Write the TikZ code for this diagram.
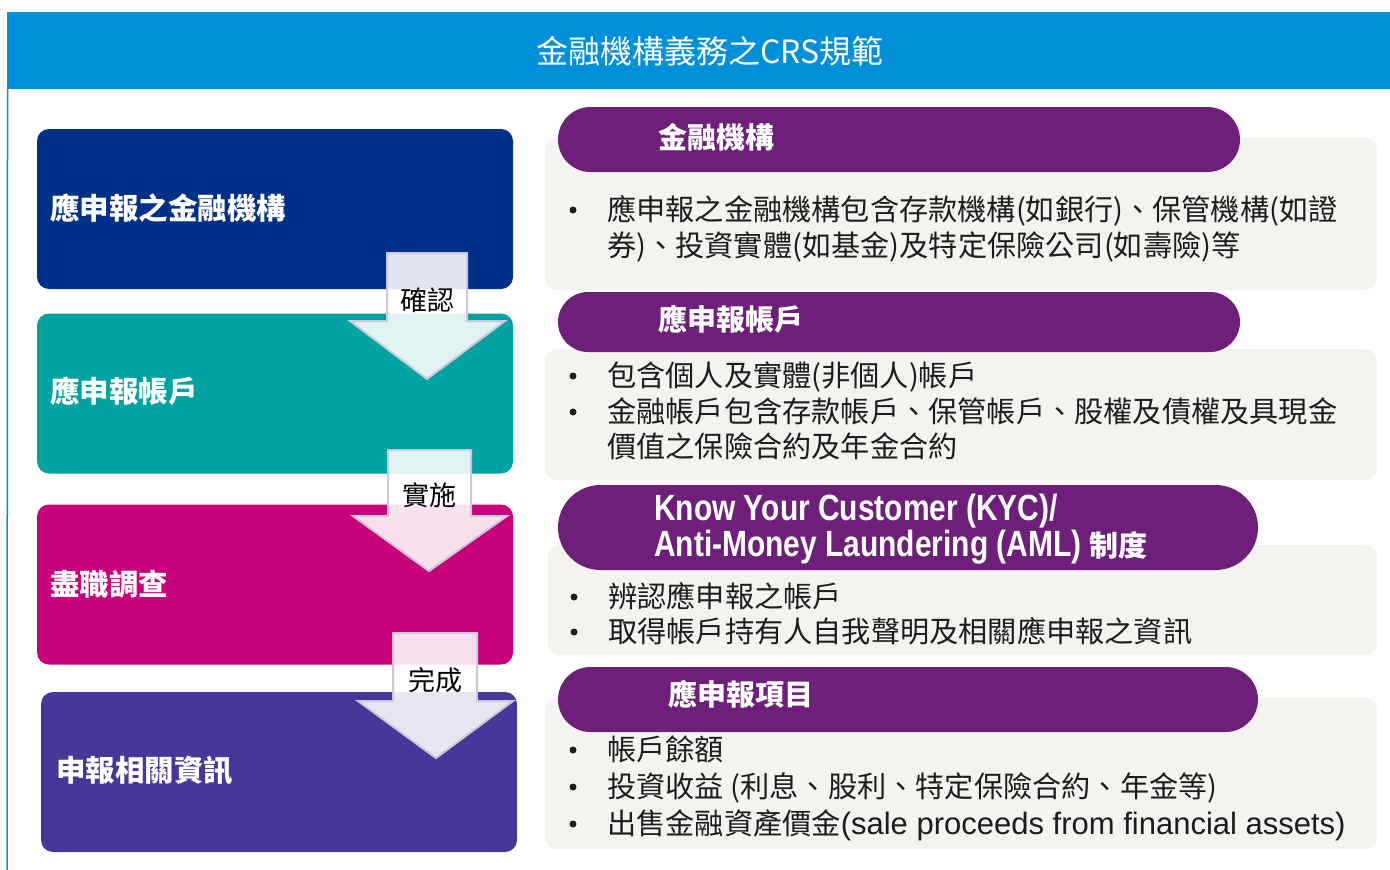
\documentclass[tikz,border=0pt]{standalone}
\usepackage{fontspec}
\setmainfont{Noto Sans CJK TC}
\newfontfamily\lat{Liberation Sans}
\newfontfamily\latcb[FakeStretch=0.82]{Liberation Sans Bold}
\definecolor{hdrblue}{RGB}{0,144,218}
\definecolor{boxA}{RGB}{0,48,135}
\definecolor{boxB}{RGB}{0,163,161}
\definecolor{boxC}{RGB}{200,0,123}
\definecolor{boxD}{RGB}{72,54,152}
\definecolor{pillc}{RGB}{109,31,122}
\definecolor{panelc}{RGB}{244,243,239}
\definecolor{arrowedge}{RGB}{205,200,215}
\definecolor{ink}{RGB}{30,28,30}
\tikzset{
  lbox/.style={draw=none, rounded corners=12pt, inner sep=0pt, minimum width=476pt, minimum height=160pt},
  panel/.style={fill=panelc, draw=none, rounded corners=12pt},
  pill/.style={fill=pillc, draw=none, inner sep=0pt},
  blockarrow/.style={fill=white, fill opacity=0.88, draw=arrowedge, line width=2pt, line join=miter},
  ltext/.style={inner sep=0pt, anchor=base west, text=white, font=\fontsize{29.5}{34}\selectfont\bfseries},
  atext/.style={inner sep=0pt, anchor=base, text=black, font=\fontsize{27}{32}\selectfont},
  ptext/.style={inner sep=0pt, anchor=base west, text=white, font=\fontsize{29}{34}\selectfont\bfseries},
  btext/.style={inner sep=0pt, anchor=base west, text=ink, font=\fontsize{29.2}{36}\selectfont},
  bul/.style={circle, fill=ink, inner sep=0pt, minimum size=7pt},
}
\begin{document}
\begin{tikzpicture}[x=1pt,y=-1pt]
\useasboundingbox (0,0) rectangle (1390,870);
\fill[white] (0,0) rectangle (1390,870);
% header
\node[fill=hdrblue, inner sep=0pt, minimum width=1383pt, minimum height=77pt] (hdr) at (698.5,50.5) {};
\node[inner sep=0pt, anchor=base, text=white, font=\fontsize{32}{36}\selectfont] (title) at (710,63.5) {金融機構義務之CRS規範};
\coordinate (lineend) at (7,870);
\draw[hdrblue, line width=1.5pt] (hdr.south west) ++(0.75,0) -- (lineend);
% left boxes
\node[lbox, fill=boxA] (b1) at (275,209) {};
\node[lbox, fill=boxB] (b2) at (275,393.5) {};
\node[lbox, fill=boxC] (b3) at (275,584.5) {};
\node[lbox, fill=boxD] (b4) at (279,772) {};
\node[ltext] (t1) at (50,219.5) {應申報之金融機構};
\node[ltext] (t2) at (50,402.5) {應申報帳戶};
\node[ltext] (t3) at (50,595.5) {盡職調查};
\node[ltext] (t4) at (56,781.5) {申報相關資訊};
% arrows
\draw[blockarrow] (387,253) -- (467,253) -- (467,321) -- (505,321) -- (427,379) -- (350,321) -- (387,321) -- cycle;
\draw[blockarrow] (388,450) -- (471,450) -- (471,516) -- (507,516) -- (429,571) -- (353,516) -- (388,516) -- cycle;
\draw[blockarrow] (393,633) -- (477,633) -- (477,701) -- (513,701) -- (436,758) -- (358,701) -- (393,701) -- cycle;
\node[atext] (a1) at (427,310) {確認};
\node[atext] (a2) at (429,505) {實施};
\node[atext] (a3) at (435,690) {完成};
% panels
\fill[panel] (545,138) rectangle (1377,290);
\fill[panel] (545,349) rectangle (1377,480);
\fill[panel] (548,545) rectangle (1377,655);
\fill[panel] (545,698) rectangle (1377,849);
% pills
\node[pill, rounded corners=32.5pt, minimum width=682pt, minimum height=65pt] (p1) at (899,139.5) {};
\node[pill, rounded corners=30pt, minimum width=682pt, minimum height=60pt] (p2) at (899,322) {};
\node[pill, rounded corners=42.5pt, minimum width=700pt, minimum height=85pt] (p3) at (908,527.5) {};
\node[pill, rounded corners=32.5pt, minimum width=700pt, minimum height=65pt] (p4) at (908,699.5) {};
\node[ptext] (pt1) at (658,148.5) {金融機構};
\node[ptext] (pt2) at (658,330.5) {應申報帳戶};
\node[inner sep=0pt, anchor=base west, text=white, font=\fontsize{36.5}{36}\selectfont\latcb] (pt3a) at (654,520) {Know Your Customer (KYC)/};
\node[inner sep=0pt, anchor=base west, text=white, font=\fontsize{36.5}{36}\selectfont] (pt3b) at (654,556) {{\latcb Anti-Money Laundering (AML) }{\fontsize{29}{34}\selectfont\bfseries 制度}};
\node[ptext] (pt4) at (668,705.5) {應申報項目};
% bullets panel 1
\node[bul] (d11) at (573,210) {};
\node[btext] (l11) at (607,220.5) {應申報之金融機構包含存款機構(如銀行)、保管機構(如證};
\node[btext] (l12) at (607,256.5) {券)、投資實體(如基金)及特定保險公司(如壽險)等};
% panel 2
\node[bul] (d21) at (573,376) {};
\node[btext] (l21) at (607,386.5) {包含個人及實體(非個人)帳戶};
\node[bul] (d22) at (573,412) {};
\node[btext] (l22) at (607,422.5) {金融帳戶包含存款帳戶、保管帳戶、股權及債權及具現金};
\node[btext] (l23) at (607,457.5) {價值之保險合約及年金合約};
% panel 3
\node[bul] (d31) at (574,597) {};
\node[btext] (l31) at (608,607.5) {辨認應申報之帳戶};
\node[bul] (d32) at (574,632) {};
\node[btext] (l32) at (608,642.5) {取得帳戶持有人自我聲明及相關應申報之資訊};
% panel 4
\node[bul] (d41) at (573,750) {};
\node[btext] (l41) at (607,760.5) {帳戶餘額};
\node[bul] (d42) at (573,787) {};
\node[btext] (l42) at (607,797.5) {投資收益 (利息、股利、特定保險合約、年金等)};
\node[bul] (d43) at (573,824) {};
\node[btext] (l43) at (607,834.5) {出售金融資產價金{\lat\fontsize{31}{36}\selectfont(sale proceeds from financial assets)}};
\end{tikzpicture}
\end{document}
